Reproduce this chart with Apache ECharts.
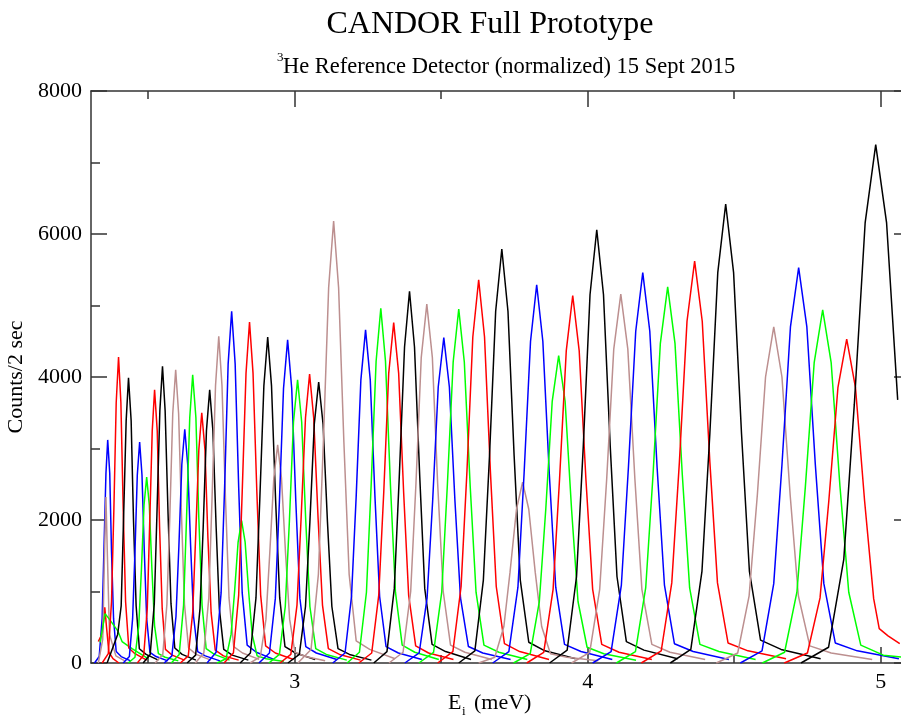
<!DOCTYPE html>
<html>
<head>
<meta charset="utf-8">
<title>CANDOR Full Prototype</title>
<script src="https://cdn.jsdelivr.net/npm/echarts@6/dist/echarts.min.js"></script>
<style>
  html, body { margin: 0; padding: 0; background: #fff; }
  #chart { width: 901px; height: 721px; }
</style>
</head>
<body>
<div id="chart"></div>
<script>
// one list per detector colour, each peak = [Ei (meV), counts] points
var blackPeaks = [
  [[2.360,0],[2.396,400],[2.408,800],[2.416,2000],[2.425,3390],[2.433,3990],[2.442,3390],[2.450,2000],[2.459,800],[2.470,200],[2.493,120],[2.535,40]],
  [[2.483,0],[2.507,120],[2.521,830],[2.530,2080],[2.540,3530],[2.549,4150],[2.558,3530],[2.568,2080],[2.578,830],[2.591,210],[2.616,120],[2.663,40]],
  [[2.633,0],[2.662,110],[2.677,760],[2.688,1910],[2.699,3250],[2.710,3820],[2.721,3250],[2.732,1910],[2.743,760],[2.758,190],[2.787,110],[2.842,40]],
  [[2.814,0],[2.849,140],[2.868,910],[2.881,2280],[2.895,3880],[2.908,4560],[2.921,3880],[2.935,2280],[2.949,910],[2.967,230],[3.003,140],[3.070,50]],
  [[2.977,0],[3.016,120],[3.037,790],[3.052,1970],[3.067,3340],[3.082,3930],[3.097,3340],[3.112,1970],[3.127,790],[3.148,200],[3.187,120],[3.262,40]],
  [[3.270,0],[3.315,160],[3.340,1040],[3.357,2600],[3.375,4420],[3.392,5200],[3.409,4420],[3.427,2600],[3.444,1040],[3.469,260],[3.515,160],[3.602,50]],
  [[3.560,0],[3.615,170],[3.644,1160],[3.665,2900],[3.686,4920],[3.707,5790],[3.728,4920],[3.749,2900],[3.770,1160],[3.799,290],[3.854,170],[3.959,60]],
  [[3.870,0],[3.930,180],[3.962,1210],[3.985,3030],[4.008,5150],[4.031,6060],[4.054,5150],[4.077,3030],[4.100,1210],[4.132,300],[4.192,180],[4.307,60]],
  [[4.282,0],[4.352,190],[4.390,1280],[4.417,3210],[4.444,5460],[4.471,6420],[4.498,5460],[4.525,3210],[4.552,1280],[4.590,320],[4.660,190],[4.795,60]],
  [[4.728,0],[4.822,220],[4.874,1450],[4.910,3620],[4.947,6160],[4.983,7250],[5.020,6160],[5.058,3680]]
];

var redPeaks = [
  [[2.330,300],[2.344,420],[2.352,780],[2.358,500],[2.366,150],[2.380,60],[2.400,0]],
  [[2.343,0],[2.364,130],[2.375,860],[2.383,2140],[2.391,3640],[2.399,4280],[2.407,3640],[2.415,2140],[2.423,860],[2.434,210],[2.455,130],[2.495,40]],
  [[2.463,0],[2.485,110],[2.497,760],[2.505,1910],[2.514,3250],[2.522,3820],[2.531,3250],[2.539,1910],[2.548,760],[2.559,190],[2.582,110],[2.624,40]],
  [[2.610,0],[2.637,100],[2.652,700],[2.662,1750],[2.673,2980],[2.683,3500],[2.694,2980],[2.704,1750],[2.715,700],[2.729,180],[2.757,100],[2.809,40]],
  [[2.759,0],[2.791,140],[2.809,950],[2.821,2390],[2.834,4050],[2.846,4770],[2.858,4050],[2.871,2390],[2.884,950],[2.901,240],[2.934,140],[2.996,50]],
  [[2.950,0],[2.987,120],[3.008,810],[3.022,2020],[3.037,3430],[3.051,4040],[3.065,3430],[3.080,2020],[3.095,810],[3.115,200],[3.153,120],[3.225,40]],
  [[3.219,0],[3.263,140],[3.287,950],[3.304,2380],[3.321,4050],[3.338,4760],[3.355,4050],[3.372,2380],[3.389,950],[3.413,240],[3.457,140],[3.542,50]],
  [[3.488,0],[3.540,160],[3.568,1070],[3.588,2680],[3.608,4560],[3.628,5360],[3.648,4560],[3.668,2680],[3.688,1070],[3.716,270],[3.768,160],[3.868,50]],
  [[3.792,0],[3.850,150],[3.882,1030],[3.904,2570],[3.927,4370],[3.949,5140],[3.971,4370],[3.994,2570],[4.017,1030],[4.048,260],[4.107,150],[4.219,50]],
  [[4.183,0],[4.251,170],[4.287,1120],[4.313,2810],[4.339,4780],[4.365,5620],[4.391,4780],[4.417,2810],[4.443,1120],[4.479,280],[4.547,170],[4.677,60]],
  [[4.671,0],[4.750,140],[4.793,910],[4.823,2270],[4.854,3850],[4.884,4530],[4.914,3850],[4.945,2270],[4.976,900],[4.995,480],[5.025,380],[5.065,270]]
];

var greenPeaks = [
  [[2.336,290],[2.353,690],[2.370,600],[2.397,445],[2.411,300],[2.445,200],[2.500,60]],
  [[2.432,0],[2.455,80],[2.468,520],[2.477,1300],[2.486,2210],[2.495,2600],[2.504,2210],[2.513,1300],[2.522,520],[2.535,130],[2.558,80],[2.603,30]],
  [[2.579,0],[2.606,120],[2.621,810],[2.631,2020],[2.642,3430],[2.652,4030],[2.663,3430],[2.673,2020],[2.684,810],[2.698,200],[2.726,120],[2.778,40]],
  [[2.735,0],[2.766,60],[2.783,400],[2.795,1000],[2.807,1690],[2.819,1990],[2.831,1690],[2.843,1000],[2.855,400],[2.872,100],[2.903,60],[2.963,20]],
  [[2.912,0],[2.948,120],[2.968,790],[2.982,1980],[2.996,3370],[3.010,3960],[3.024,3370],[3.038,1980],[3.052,790],[3.072,200],[3.108,120],[3.178,40]],
  [[3.179,0],[3.221,150],[3.245,990],[3.261,2480],[3.278,4220],[3.294,4960],[3.310,4220],[3.327,2480],[3.344,990],[3.367,250],[3.410,150],[3.492,50]],
  [[3.424,0],[3.474,150],[3.502,990],[3.521,2480],[3.541,4210],[3.560,4950],[3.579,4210],[3.599,2480],[3.619,990],[3.646,250],[3.697,150],[3.794,50]],
  [[3.747,0],[3.804,130],[3.835,860],[3.857,2150],[3.879,3660],[3.901,4300],[3.923,3660],[3.945,2150],[3.967,860],[3.998,220],[4.055,130],[4.165,40]],
  [[4.098,0],[4.163,160],[4.198,1050],[4.223,2630],[4.248,4470],[4.273,5260],[4.298,4470],[4.323,2630],[4.348,1050],[4.383,260],[4.448,160],[4.573,50]],
  [[4.596,0],[4.672,150],[4.714,990],[4.743,2470],[4.773,4200],[4.802,4940],[4.831,4200],[4.861,2470],[4.891,990],[4.932,250],[5.009,110],[5.100,70]]
];

var bluePeaks = [
  [[2.317,0],[2.333,90],[2.343,620],[2.349,1560],[2.356,2650],[2.362,3120],[2.369,2650],[2.375,1560],[2.382,620],[2.391,160],[2.408,90],[2.440,30]],
  [[2.415,0],[2.436,90],[2.447,620],[2.455,1550],[2.463,2630],[2.471,3090],[2.479,2630],[2.487,1550],[2.495,620],[2.506,150],[2.527,90],[2.567,30]],
  [[2.555,0],[2.581,100],[2.595,650],[2.605,1640],[2.615,2780],[2.625,3270],[2.635,2780],[2.645,1640],[2.655,650],[2.669,160],[2.695,100],[2.745,30]],
  [[2.701,0],[2.732,150],[2.749,980],[2.761,2460],[2.773,4180],[2.785,4920],[2.797,4180],[2.809,2460],[2.821,980],[2.838,250],[2.869,150],[2.929,50]],
  [[2.878,0],[2.914,140],[2.934,900],[2.948,2260],[2.962,3840],[2.976,4520],[2.990,3840],[3.004,2260],[3.018,900],[3.038,230],[3.074,140],[3.144,50]],
  [[3.130,0],[3.172,140],[3.194,930],[3.210,2330],[3.226,3960],[3.242,4660],[3.258,3960],[3.274,2330],[3.290,930],[3.312,230],[3.354,140],[3.434,50]],
  [[3.376,0],[3.425,140],[3.452,910],[3.471,2270],[3.490,3860],[3.509,4550],[3.528,3860],[3.547,2270],[3.566,910],[3.593,230],[3.642,140],[3.737,50]],
  [[3.676,0],[3.731,160],[3.762,1060],[3.783,2650],[3.805,4500],[3.826,5290],[3.847,4500],[3.869,2650],[3.891,1060],[3.921,260],[3.977,160],[4.084,50]],
  [[4.017,0],[4.080,160],[4.115,1090],[4.139,2730],[4.164,4640],[4.188,5460],[4.212,4640],[4.237,2730],[4.262,1090],[4.296,270],[4.360,160],[4.482,50]],
  [[4.521,0],[4.595,170],[4.635,1110],[4.663,2770],[4.692,4700],[4.720,5530],[4.748,4700],[4.777,2770],[4.806,1110],[4.845,280],[4.920,170],[5.062,60]]
];

var brownPeaks = [
  [[2.330,0],[2.345,330],[2.351,1500],[2.356,2320],[2.361,1500],[2.368,400],[2.390,100],[2.420,30]],
  [[2.524,0],[2.550,120],[2.564,820],[2.574,2050],[2.584,3490],[2.594,4100],[2.604,3490],[2.614,2050],[2.624,820],[2.638,210],[2.664,120],[2.714,40]],
  [[2.661,0],[2.690,140],[2.707,910],[2.718,2290],[2.730,3880],[2.741,4570],[2.752,3880],[2.764,2290],[2.776,910],[2.792,230],[2.822,140],[2.879,50]],
  [[2.848,0],[2.883,90],[2.902,610],[2.915,1530],[2.929,2590],[2.942,3050],[2.955,2590],[2.969,1530],[2.983,610],[3.001,150],[3.037,90],[3.104,30]],
  [[3.011,0],[3.056,190],[3.081,1240],[3.098,3090],[3.116,5250],[3.133,6180],[3.150,5250],[3.168,3090],[3.186,1240],[3.210,310],[3.256,190],[3.343,60]],
  [[3.322,0],[3.370,150],[3.396,1000],[3.414,2510],[3.432,4270],[3.451,5020],[3.470,4270],[3.488,2510],[3.507,1000],[3.532,250],[3.581,150],[3.673,50]],
  [[3.628,0],[3.683,80],[3.714,510],[3.735,1270],[3.757,2150],[3.778,2530],[3.799,2150],[3.821,1270],[3.843,510],[3.873,130],[3.929,80],[4.036,30]],
  [[3.945,0],[4.007,150],[4.041,1030],[4.065,2580],[4.089,4390],[4.113,5160],[4.137,4390],[4.161,2580],[4.185,1030],[4.219,260],[4.281,150],[4.401,50]],
  [[4.439,0],[4.512,140],[4.551,940],[4.579,2350],[4.607,4000],[4.635,4700],[4.663,4000],[4.691,2350],[4.719,940],[4.758,240],[4.831,140],[4.971,50]]
];

var xMajorTicks = [3, 4, 5];
var xMinorTicks = [2.5, 3.5, 4.5];

var serif = '"Liberation Serif", "Times New Roman", serif';
var frameColor = '#333';

var groups = [
  { color: '#000000', peaks: blackPeaks },
  { color: '#ff0000', peaks: redPeaks },
  { color: '#00ff00', peaks: greenPeaks },
  { color: '#0000ff', peaks: bluePeaks },
  { color: '#bc8f8f', peaks: brownPeaks }
];

var curves = [];
groups.forEach(function (g) {
  g.peaks.forEach(function (p) {
    curves.push({ color: g.color, data: p });
  });
});
// draw left to right like the original overlay
curves.sort(function (a, b) { return a.data[0][0] - b.data[0][0]; });

var series = curves.map(function (c) {
  return {
    type: 'line',
    data: c.data,
    xAxisIndex: 0,
    yAxisIndex: 0,
    symbol: 'none',
    showSymbol: false,
    silent: true,
    lineStyle: { color: c.color, width: 1.5 },
    itemStyle: { color: c.color }
  };
});

function xAxisOf(position, ticks, len, withLine, withLabel) {
  return {
    type: 'value',
    position: position,
    min: 2.305,
    max: 5.1,
    splitLine: { show: false },
    axisLine: { show: withLine, onZero: false, lineStyle: { color: frameColor, width: 1.5 } },
    axisTick: { show: true, inside: true, length: len, customValues: ticks, lineStyle: { color: frameColor, width: 1.5 } },
    axisLabel: withLabel
      ? { show: true, customValues: ticks, margin: 8, color: '#000', fontFamily: serif, fontSize: 22 }
      : { show: false }
  };
}

function yAxisOf(position, withLabel) {
  var ax = {
    type: 'value',
    position: position,
    min: 0,
    max: 8000,
    interval: 2000,
    splitLine: { show: false },
    axisLine: { show: true, onZero: false, lineStyle: { color: frameColor, width: 1.5 } },
    axisTick: { show: true, inside: true, length: 16, lineStyle: { color: frameColor, width: 1.5 } },
    minorTick: { show: true, splitNumber: 2, length: 9, lineStyle: { color: frameColor, width: 1.5 } },
    axisLabel: withLabel
      ? {
          show: true, margin: 9, color: '#000', fontFamily: serif, fontSize: 22,
          formatter: function (v) { return String(v); }
        }
      : { show: false }
  };
  if (withLabel) {
    ax.name = 'Counts/2 sec';
    ax.nameLocation = 'middle';
    ax.nameGap = 34;
    ax.nameTextStyle = { color: '#000', fontFamily: serif, fontSize: 22 };
  }
  return ax;
}

var myChart = echarts.init(document.getElementById('chart'), null, { renderer: 'canvas' });
myChart.setOption({
  animation: false,
  backgroundColor: '#fff',
  grid: { left: 91, right: -9, top: 91, bottom: 58, containLabel: false, outerBoundsMode: 'none' },
  xAxis: [
    xAxisOf('bottom', xMajorTicks, 16, true, true),
    xAxisOf('bottom', xMinorTicks, 8, false, false),
    xAxisOf('top', xMajorTicks, 16, true, false),
    xAxisOf('top', xMinorTicks, 8, false, false)
  ],
  yAxis: [
    yAxisOf('left', true),
    yAxisOf('right', false)
  ],
  graphic: [
    { type: 'text', x: 490, y: 25, style: { text: 'CANDOR Full Prototype', font: '32px ' + serif, fill: '#000', align: 'center', verticalAlign: 'middle' } },
    { type: 'text', x: 277, y: 58, style: { text: '3', font: '13px ' + serif, fill: '#000', align: 'left', verticalAlign: 'middle' } },
    { type: 'text', x: 283, y: 67, style: { text: 'He Reference Detector (normalized) 15 Sept 2015', font: '22.5px ' + serif, fill: '#000', align: 'left', verticalAlign: 'middle' } },
    { type: 'text', x: 448, y: 703, style: { text: 'E', font: '22px ' + serif, fill: '#000', align: 'left', verticalAlign: 'middle' } },
    { type: 'text', x: 462, y: 712, style: { text: 'i', font: '13px ' + serif, fill: '#000', align: 'left', verticalAlign: 'middle' } },
    { type: 'text', x: 474, y: 703, style: { text: '(meV)', font: '22px ' + serif, fill: '#000', align: 'left', verticalAlign: 'middle' } }
  ],
  series: series
});

window.addEventListener('resize', function () {
  myChart.resize();
});
</script>
</body>
</html>
